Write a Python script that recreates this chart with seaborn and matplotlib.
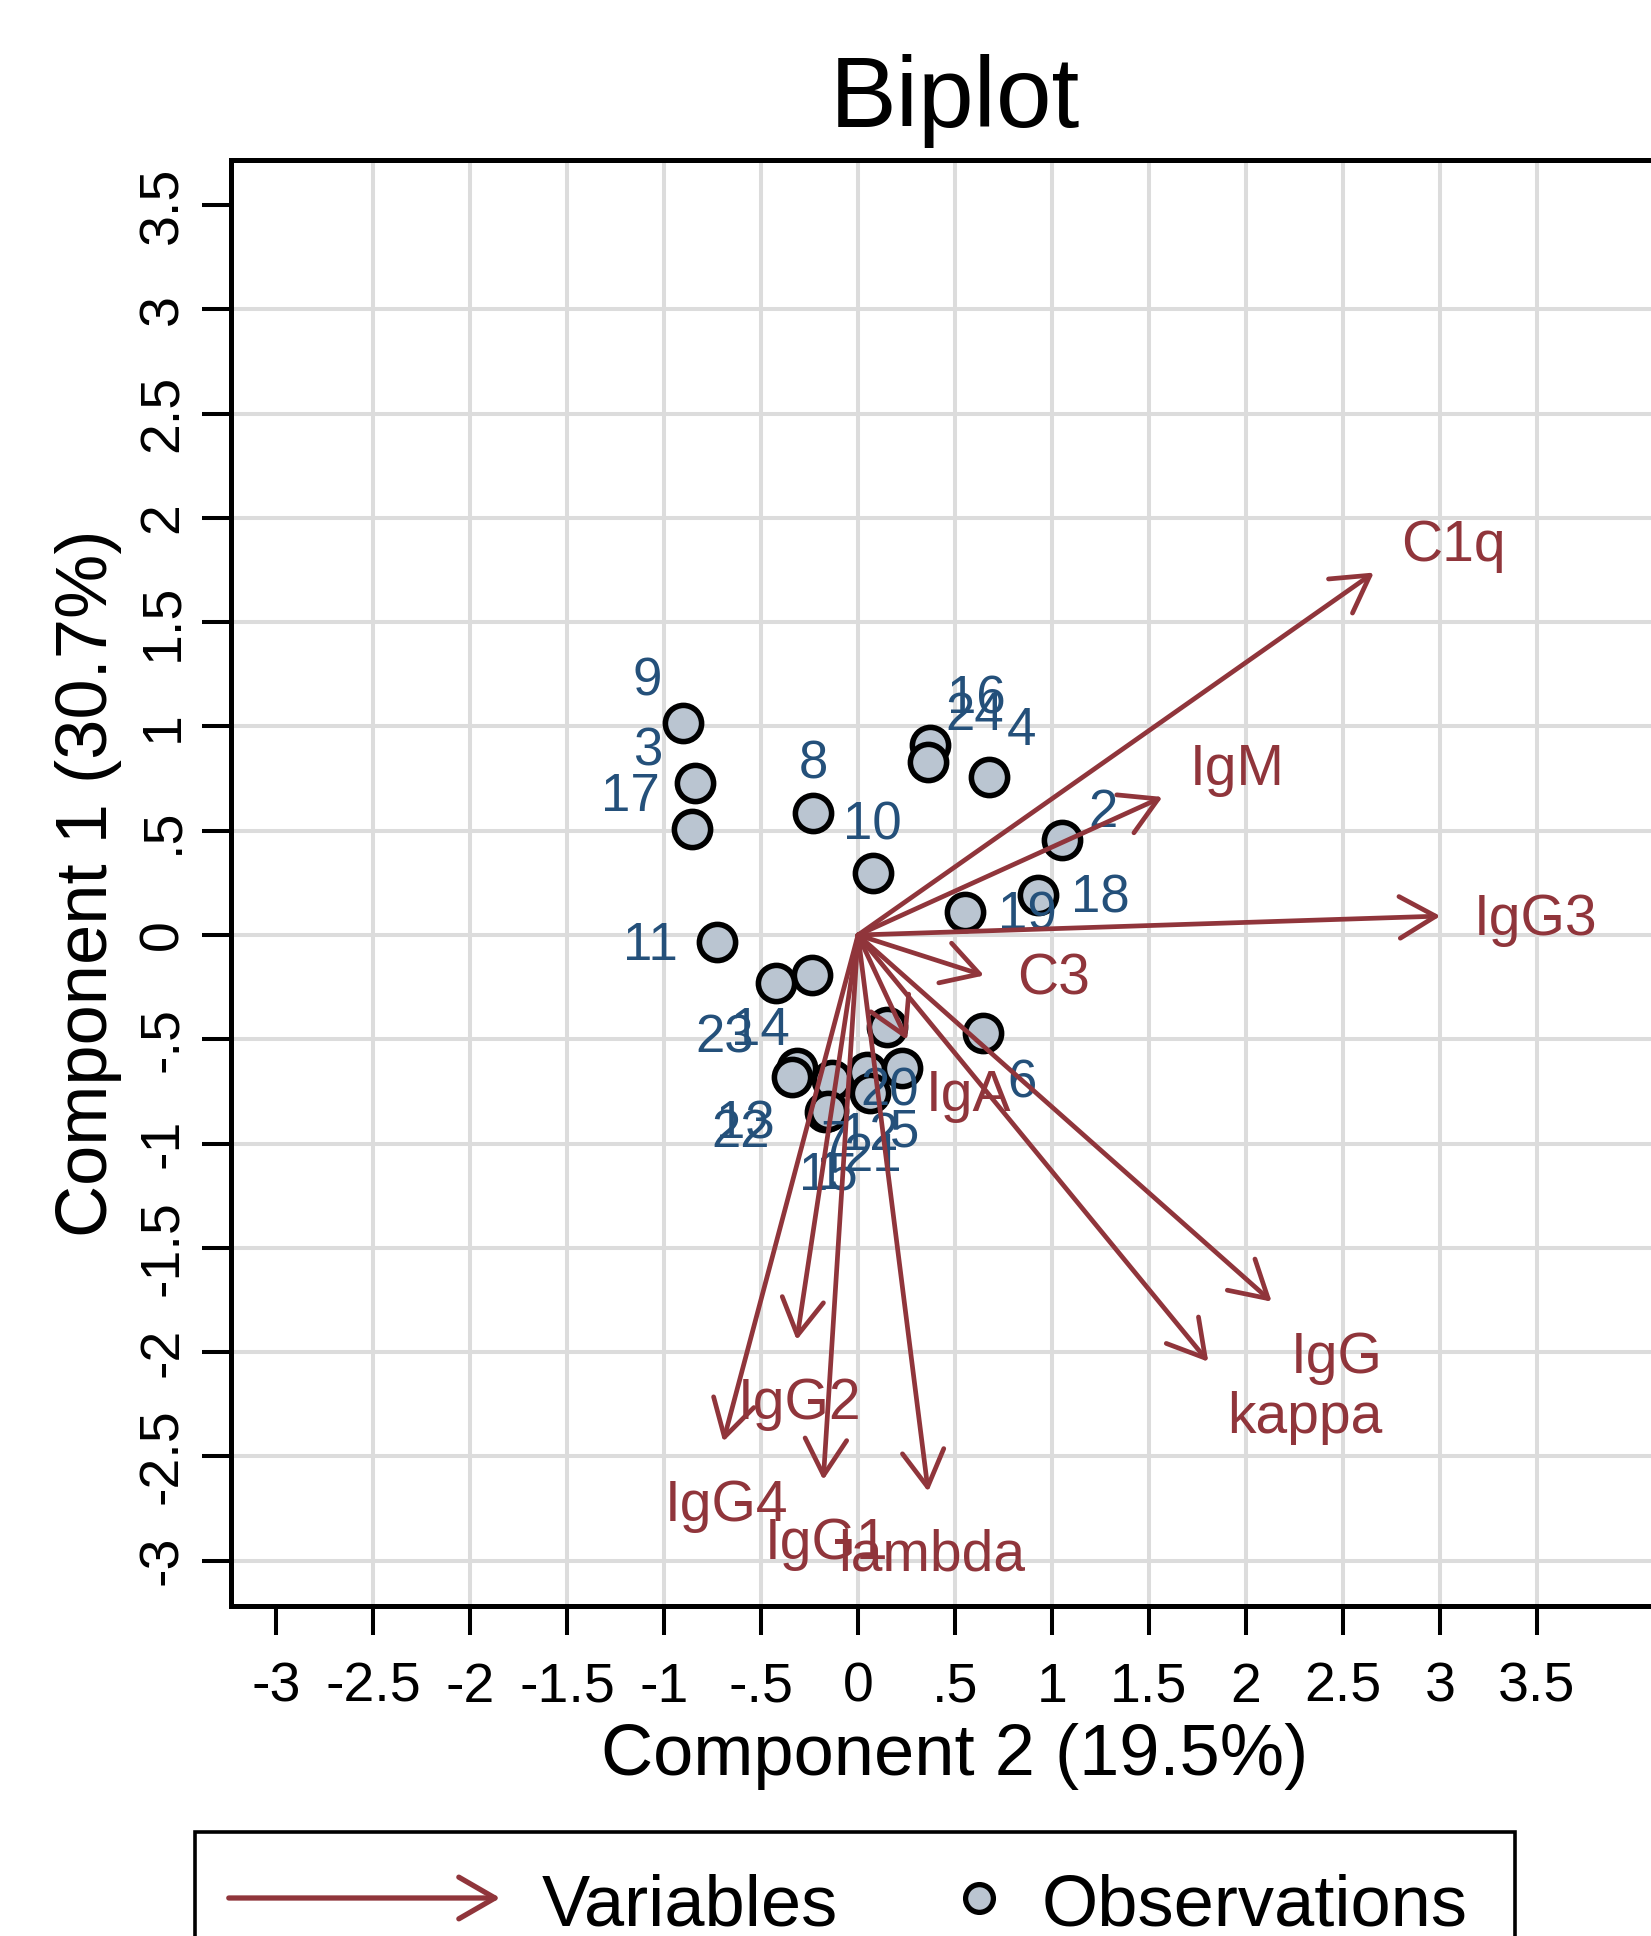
import numpy as np
import pandas as pd
import seaborn as sns
import matplotlib.pyplot as plt
from matplotlib.patches import Rectangle, FancyArrowPatch
from matplotlib.lines import Line2D


# data                ----------------------------------------------------------------
obs_id = ["9", "3", "17", "8", "10", "11", "16", "24", "4", "2", "19", "18",
          "23", "14", "6", "20", "13", "22", "7", "12", "5", "21", "15", "1"]
obs_c2 = [-0.904, -0.840, -0.854, -0.230, 0.076, -0.729, 0.371, 0.363, 0.677, 1.050, 0.552, 0.930,
          -0.423, -0.236, 0.646, 0.148, -0.316, -0.342, -0.136, 0.045, 0.225, 0.062, -0.170, -0.155]
obs_c1 = [1.015, 0.727, 0.508, 0.586, 0.296, -0.032, 0.911, 0.831, 0.759, 0.455, 0.112, 0.192,
          -0.229, -0.192, -0.471, -0.443, -0.639, -0.679, -0.695, -0.655, -0.639, -0.759, -0.847, -0.842]
# label position as a clock direction (Stata style)
obs_clock = [11, 10, 10, 12, 12, 9, 1, 1, 1, 2, 3, 3,
             7, 7, 5, 6, 7, 7, 6, 6, 6, 6, 6, 6]

var_names = ["C1q", "IgM", "IgG3", "C3", "IgA", "IgG", "kappa", "IgG2", "IgG4", "IgG1", "lambda"]
var_c2 = [2.660, 1.570, 3.003, 0.650, 0.253, 2.133, 1.806, -0.316, -0.695, -0.179, 0.362]
var_c1 = [1.738, 0.662, 0.091, -0.194, -0.503, -1.758, -2.046, -1.942, -2.429, -2.613, -2.669]
var_clock = [2, 2, 3, 3, 4, 4, 4, 6, 6, 6, 6]

ticks = [-3, -2.5, -2, -1.5, -1, -0.5, 0, 0.5, 1, 1.5, 2, 2.5, 3, 3.5]
xgrid = [-2.5, -2, -1.5, -1, -0.5, 0, 0.5, 1, 1.5, 2, 2.5, 3, 3.5]
ygrid = [-3, -2.5, -2, -1.5, -1, -0.5, 0, 0.5, 1, 1.5, 2, 2.5, 3]

# styling                ----------------------------------------------------------------
MAROON = "#90353B"
NAVY = "#24507A"
FILL = "#BAC5D1"
GRID = "#DCDCDC"

# clock -> (ha, dx px, dy px down)
CLOCK = {1: ("left", 17, -46), 2: ("left", 27, -27), 3: ("left", 33, 4),
         4: ("left", 19, 56), 5: ("left", 24, 50), 6: ("center", 3, 64),
         7: ("right", -22, 56), 9: ("right", -39, 4), 10: ("right", -33, -32),
         11: ("right", -21, -42), 12: ("center", 0, -48)}


def stata_fmt(v):
    s = f"{v:g}"
    return s.replace("0.", ".") if abs(v) < 1 and v != 0 else s


sns.set_theme(style="white")
plt.rcParams["font.family"] = ["Liberation Sans", "DejaVu Sans"]
plt.rcParams["text.color"] = "black"
plt.rcParams["axes.labelcolor"] = "black"
plt.rcParams["xtick.color"] = "black"
plt.rcParams["ytick.color"] = "black"

W, H = 1651, 1936
fig = plt.figure(figsize=(W / 100, H / 100), dpi=100)
fig.patch.set_facecolor("white")
ax = fig.add_axes([231 / W, 1 - 1606 / H, (1678 - 231) / W, (1606 - 160) / H])
ax.set_facecolor("white")

ax.set_xlim(-3.233, 4.228)
ax.set_ylim(-3.217, 3.716)

for v in xgrid:
    ax.axvline(v, color=GRID, lw=2.9, zorder=0)
for v in ygrid:
    ax.axhline(v, color=GRID, lw=2.9, zorder=0)

# observations
obs_df = pd.DataFrame({"id": obs_id, "c2": obs_c2, "c1": obs_c1, "clock": obs_clock})
sns.scatterplot(data=obs_df, x="c2", y="c1", s=680, color=FILL, edgecolor="black",
                linewidth=4.0, zorder=3, ax=ax, legend=False)

for _, r in obs_df.iterrows():
    ha, dx, dy = CLOCK[r["clock"]]
    ax.annotate(r["id"], (r["c2"], r["c1"]), xytext=(dx, -dy), textcoords="offset pixels",
                ha=ha, va="center", fontsize=38, color=NAVY, zorder=4)

# variable arrows
arrow_style = "->,head_length=1.3,head_width=0.75"
for name, x, y, c in zip(var_names, var_c2, var_c1, var_clock):
    ax.annotate("", xy=(x, y), xytext=(0, 0),
                arrowprops=dict(arrowstyle=arrow_style, color=MAROON, lw=3.4,
                                shrinkA=0, shrinkB=0, mutation_scale=20),
                zorder=5)
    ha, dx, dy = CLOCK[c]
    ax.annotate(name, (x, y), xytext=(dx, -dy), textcoords="offset pixels",
                ha=ha, va="center", fontsize=41, color=MAROON, zorder=6)

# axes cosmetics
ax.set_xticks(ticks)
ax.set_xticklabels([stata_fmt(t) for t in ticks])
ax.set_yticks(ticks)
ax.set_yticklabels([stata_fmt(t) for t in ticks])
ax.tick_params(axis="both", direction="out", length=21, width=2.9, color="black",
               labelsize=40, labelcolor="black", bottom=True, left=True)
ax.tick_params(axis="x", pad=19)
ax.tick_params(axis="y", pad=9, labelrotation=90)
for lab in ax.get_yticklabels():
    lab.set_va("center")
ax.set_xlabel("")
ax.set_ylabel("")

for side in ["left", "bottom", "top"]:
    ax.spines[side].set_visible(True)
    ax.spines[side].set_color("black")
    ax.spines[side].set_linewidth(3.6)
ax.spines["right"].set_visible(False)

fig.text(955 / W, 1 - 126.7 / H, "Biplot", ha="center", va="baseline", fontsize=72, color="black")
fig.text(954.5 / W, 1 - 1756 / H, "Component 2 (19.5%)", ha="center", va="center",
         fontsize=52, color="black")
fig.text(88 / W, 1 - 883 / H, "Component 1 (30.7%)", ha="center", va="center",
         rotation=90, fontsize=52, color="black")

# legend (box runs off the bottom edge like the source)
fig.add_artist(Rectangle((195 / W, 1 - 2000 / H), (1515 - 195) / W, (2000 - 1832) / H,
                         transform=fig.transFigure, facecolor="white", edgecolor="black",
                         lw=2.6, zorder=1))
fig.add_artist(FancyArrowPatch((226 / W, 1 - 1898 / H), (503 / W, 1 - 1898 / H),
                               transform=fig.transFigure, arrowstyle=arrow_style,
                               mutation_scale=20, color=MAROON, lw=3.8, zorder=2))
fig.add_artist(Line2D([979 / W], [1 - 1898 / H], marker="o", markersize=20,
                      markerfacecolor=FILL, markeredgecolor="black", markeredgewidth=3.8,
                      transform=fig.transFigure, zorder=2))
fig.text(542 / W, 1 - 1925 / H, "Variables", ha="left", va="baseline", fontsize=52,
         color="black", zorder=3)
fig.text(1042 / W, 1 - 1925 / H, "Observations", ha="left", va="baseline", fontsize=52,
         color="black", zorder=3)

fig.savefig("out.png", dpi=100)
